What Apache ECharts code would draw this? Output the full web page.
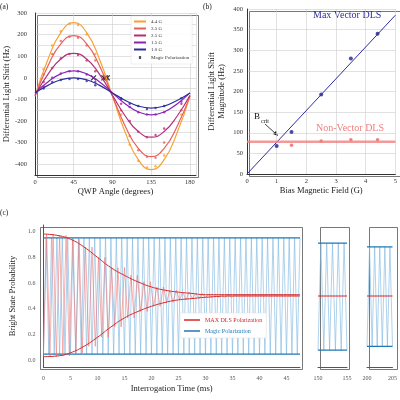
<!DOCTYPE html>
<html><head><meta charset="utf-8">
<script src="https://cdn.jsdelivr.net/npm/echarts@6/dist/echarts.min.js"></script>
<style>html,body{margin:0;background:#fff}#c{width:400px;height:400px}</style>
</head><body><div id="c"></div>
<script>
// panel (a)
const qwpAngles = [0, 15, 30, 45, 60, 75, 90, 105, 120, 135, 150, 165, 180];
const fit44 = [-85, 85, 209, 255, 209, 85, -85, -255, -379, -425, -379, -255, -85];
const fit35 = [-85, 55, 157, 195, 157, 55, -85, -225, -327, -365, -327, -225, -85];
const fit25 = [-81, 16, 87, 113, 87, 16, -81, -178, -249, -275, -249, -178, -81];
const fit15 = [-70, -19, 18, 32, 18, -19, -70, -121, -158, -172, -158, -121, -70];
const fit10 = [-70, -35, -9, 0, -9, -35, -70, -105, -131, -140, -131, -105, -70];
const dataAngles = [10, 20, 30, 40, 50, 60, 70, 100, 110, 120, 130, 140, 150, 170];
const pts44 = [40, 150, 215, 250, 245, 200, 110, -170, -310, -385, -415, -410, -360, -170];
const pts35 = [15, 110, 170, 190, 185, 150, 80, -150, -270, -335, -365, -370, -300, -150];
const pts25 = [-20, 45, 90, 110, 105, 80, 30, -120, -200, -250, -275, -265, -235, -120];
const pts15 = [-40, 0, 20, 30, 30, 15, -20, -100, -135, -160, -170, -170, -160, -110];
const pts10 = [-50, -20, -10, -5, -5, -15, -35, -95, -120, -130, -145, -140, -130, -95];
const magicAngles = [68, 80, 82, 84];
const fieldLabels = ['4.4 G', '3.5 G', '2.5 G', '1.5 G', '1.0 G'];
const fieldColors = ['#f9a030', '#e8605a', '#b5307a', '#8a22b8', '#2e2e9e'];
// panel (b)
const biasB = [1.0, 1.5, 2.5, 3.5, 4.4];
const vectorDLS = [68, 102, 193, 280, 340];
const biasNV = [1.5, 2.5, 3.5, 4.4];
const nonVectorDLS = [70, 80, 83, 83];
const vectorLine = [[0, 0], [5, 385]];
const nonVectorLevel = 78;
// panel (c) envelopes
const envT = [0, 2.5, 5, 7.5, 10, 12.5, 15, 17.5, 20, 22.5, 25, 27.5, 30, 35, 47.5];
const redUpper = [0.98, 0.97, 0.94, 0.88, 0.80, 0.72, 0.66, 0.61, 0.57, 0.545, 0.53, 0.52, 0.51, 0.51, 0.51];
const redLower = [0.03, 0.035, 0.06, 0.11, 0.18, 0.26, 0.33, 0.38, 0.42, 0.45, 0.47, 0.48, 0.49, 0.50, 0.50];
const magicHi = [0.95, 0.91, 0.88];
const magicLo = [0.05, 0.08, 0.11];
const magicHalfPeriod = 0.5;
const redHalfPeriod = 0.6;

const envAt = (arr, t) => { let i = 0; while (i < envT.length - 1 && envT[i + 1] <= t) i++; return arr[i]; };
function zigzag(t0, t1, half, hiFn, loFn) {
  const out = []; let k = 0;
  for (let t = t0; t <= t1 + 1e-9; t += half, k++) out.push([t, k % 2 ? hiFn(t) : loFn(t)]);
  return out;
}
const pair = (xs, ys) => xs.map((x, i) => [x, ys[i]]);

const F = 'Liberation Serif';
const CROSS = 'path://M0,0L10,10M10,0L0,10';
const ax = (extra) => Object.assign({
  axisLine: { onZero: false, lineStyle: { color: '#333' } }, axisTick: { show: false },
  axisLabel: { fontFamily: F, fontSize: 6.5, color: '#333', margin: 4 },
  splitLine: { lineStyle: { color: '#ccc', width: 0.6 } },
  nameTextStyle: { fontFamily: F, fontSize: 8.5, color: '#222' }, nameLocation: 'middle'
}, extra);
const cLabel = { fontFamily: F, fontSize: 6, color: '#555' };
const cLine = { onZero: false, lineStyle: { color: '#555' } };

const series = [];
const fits = [fit44, fit35, fit25, fit15, fit10];
const pts = [pts44, pts35, pts25, pts15, pts10];
fieldLabels.forEach((n, i) => {
  series.push({ name: n, type: 'line', smooth: 0.5, showSymbol: false, xAxisIndex: 0, yAxisIndex: 0,
    data: pair(qwpAngles, fits[i]), lineStyle: { color: fieldColors[i], width: 1.2 }, itemStyle: { color: fieldColors[i] } });
  series.push({ type: 'scatter', symbolSize: 2.5, xAxisIndex: 0, yAxisIndex: 0,
    data: pair(dataAngles, pts[i]), itemStyle: { color: fieldColors[i] } });
});
series.push({ name: 'Magic Polarization', type: 'scatter', symbol: CROSS, symbolSize: 5,
  xAxisIndex: 0, yAxisIndex: 0, data: magicAngles.map(a => [a, 0]),
  itemStyle: { color: 'none', borderColor: '#000', borderWidth: 1.2 } });

series.push({ type: 'line', xAxisIndex: 1, yAxisIndex: 1, data: vectorLine, showSymbol: false,
  lineStyle: { color: '#2e2e9e', width: 1 }, silent: true });
series.push({ type: 'line', xAxisIndex: 1, yAxisIndex: 1, data: [[0, nonVectorLevel], [5, nonVectorLevel]], showSymbol: false,
  lineStyle: { color: '#f08080', width: 2.5, opacity: 0.8 } });
series.push({ type: 'scatter', xAxisIndex: 1, yAxisIndex: 1, data: pair(biasB, vectorDLS), symbolSize: 4, itemStyle: { color: '#1f1f8f' } });
series.push({ type: 'scatter', xAxisIndex: 1, yAxisIndex: 1, data: pair(biasNV, nonVectorDLS), symbolSize: 3.5, itemStyle: { color: '#e86060' } });

// panel (c)
const cRanges = [[0, 47.5], [150, 155], [200, 205]];
cRanges.forEach((r, i) => {
  const xi = 2 + i;
  series.push({ type: 'line', xAxisIndex: xi, yAxisIndex: xi, showSymbol: false, silent: true,
    data: zigzag(r[0], r[1], magicHalfPeriod, () => magicHi[i], () => magicLo[i]),
    lineStyle: { color: '#7fb8e0', width: 0.9, opacity: 0.7 } });
  ['hi', 'lo'].forEach((k, j) => series.push({ name: i === 0 && j === 0 ? 'Magic Polarization ' : undefined,
    type: 'line', xAxisIndex: xi, yAxisIndex: xi, showSymbol: false,
    data: [[r[0], j ? magicLo[i] : magicHi[i]], [r[1], j ? magicLo[i] : magicHi[i]]],
    lineStyle: { color: '#1f77b4', width: 1.2 }, itemStyle: { color: '#1f77b4' } }));
  if (i > 0) series.push({ type: 'line', xAxisIndex: xi, yAxisIndex: xi, showSymbol: false,
    data: [[r[0], 0.5], [r[1], 0.5]], lineStyle: { color: '#d62728', width: 1 } });
});
series.push({ type: 'line', xAxisIndex: 2, yAxisIndex: 2, showSymbol: false, silent: true,
  data: zigzag(0, 47.5, redHalfPeriod, t => envAt(redUpper, t), t => envAt(redLower, t)),
  lineStyle: { color: '#ee7070', width: 0.7, opacity: 0.8 } });
series.push({ name: 'MAX DLS Polarization', type: 'line', smooth: true, xAxisIndex: 2, yAxisIndex: 2, showSymbol: false,
  data: pair(envT, redUpper), lineStyle: { color: '#d62728', width: 1 }, itemStyle: { color: '#d62728' } });
series.push({ type: 'line', smooth: true, xAxisIndex: 2, yAxisIndex: 2, showSymbol: false,
  data: pair(envT, redLower), lineStyle: { color: '#d62728', width: 1 } });

const txt = (x, y, s, size, color, extra) => ({ type: 'text', left: x, top: y,
  style: Object.assign({ text: s, fontFamily: F, fontSize: size, fill: color || '#222' }, extra) });
const box = (x, y, w, h) => ({ type: 'rect', left: x, top: y, shape: { width: w, height: h }, silent: true,
  style: { fill: 'none', stroke: '#555', lineWidth: 0.8 } });

const chart = echarts.init(document.getElementById('c'));
chart.setOption({
  animation: false,
  grid: [
    { left: 35, top: 13, width: 161, height: 162 },
    { left: 247, top: 9, width: 151, height: 165 },
    { left: 38, top: 225, width: 262, height: 142 },
    { left: 318, top: 225, width: 29, height: 142 },
    { left: 367, top: 225, width: 28, height: 142 }
  ],
  xAxis: [
    ax({ gridIndex: 0, min: 0, max: 187, interval: 45, name: 'QWP Angle (degrees)', nameGap: 12 }),
    ax({ gridIndex: 1, min: 0, max: 5, interval: 1, name: 'Bias Magnetic Field (G)', nameGap: 12 }),
    ax({ gridIndex: 2, min: 0, max: 47.5, interval: 5, name: 'Interrogation Time (ms)', nameGap: 17, splitLine: { show: false },
      axisLine: cLine, axisLabel: Object.assign({ showMaxLabel: false }, cLabel) }),
    ax({ gridIndex: 3, min: 150, max: 155, interval: 5, splitLine: { show: false }, axisLine: cLine, axisLabel: cLabel }),
    ax({ gridIndex: 4, min: 200, max: 205, interval: 5, splitLine: { show: false }, axisLine: cLine, axisLabel: cLabel })
  ],
  yAxis: [
    ax({ gridIndex: 0, min: -450, max: 300, interval: 50, name: 'Differential Light Shift (Hz)', nameGap: 22,
      axisLabel: { fontFamily: F, fontSize: 6.5, color: '#333', formatter: v => v % 100 === 0 ? v : '' },
      splitLine: { lineStyle: { color: ['#ccc'], width: 0.6 }, interval: (i, v) => Number(v) % 100 === 0 } }),
    ax({ gridIndex: 1, min: 0, max: 400, interval: 50, name: 'Differential Light Shift\nMagnitude (Hz)', nameGap: 20,
      nameTextStyle: { fontFamily: F, fontSize: 8.5, color: '#222', lineHeight: 10 } }),
    ax({ gridIndex: 2, min: -0.05, max: 1.05, name: 'Bright State Probability', nameGap: 22, splitLine: { show: false },
      axisLine: cLine,
      axisLabel: Object.assign({ formatter: v => { const r = Math.round(v * 10) / 10; return Math.abs(v - r) < 1e-6 && r >= 0 && r <= 1 && Math.round(r * 10) % 2 === 0 ? r.toFixed(1) : ''; } }, cLabel),
      interval: 0.05 }),
    ax({ gridIndex: 3, min: -0.05, max: 1.05, axisLine: { show: false }, axisLabel: { show: false }, splitLine: { show: false } }),
    ax({ gridIndex: 4, min: -0.05, max: 1.05, axisLine: { show: false }, axisLabel: { show: false }, splitLine: { show: false } })
  ],
  legend: [
    { data: fieldLabels.map(n => ({ name: n, icon: 'rect' })).concat([{ name: 'Magic Polarization', icon: CROSS,
        itemStyle: { color: 'none', borderColor: '#000', borderWidth: 1.2 } }]),
      left: 131, top: 16, orient: 'vertical', itemGap: 2, itemWidth: 12, itemHeight: 2,
      textStyle: { fontFamily: F, fontSize: 5, color: '#333' }, backgroundColor: 'rgba(255,255,255,0.9)', borderColor: '#ddd', borderWidth: 0.5, padding: 3 },
    { data: [{ name: 'MAX DLS Polarization', icon: 'rect', textStyle: { color: '#d62728' } },
             { name: 'Magic Polarization ', icon: 'rect', textStyle: { color: '#1f77b4' } }],
      left: 180, top: 313, orient: 'vertical', itemGap: 5, itemWidth: 16, itemHeight: 1.5,
      textStyle: { fontFamily: F, fontSize: 6 }, formatter: n => n.trim(),
      backgroundColor: '#fff', borderColor: '#ddd', borderWidth: 0.5, padding: 4 }
  ],
  graphic: [
    txt(0, 3, '(a)', 7.5), txt(203, 3, '(b)', 7.5), txt(0, 209, '(c)', 7.5),
    box(35, 13, 161, 162), box(247, 9, 151, 165),
    box(38, 225, 262, 142), box(318, 225, 29, 142), box(367, 225, 28, 142),
    txt(313, 10, 'Max Vector DLS', 10, '#2e2e9e'),
    txt(316, 123, 'Non-Vector DLS', 10, '#f08080'),
    txt(254, 112, 'B', 9, '#111'), txt(261, 118, 'crit', 6, '#111'),
    { type: 'line', shape: { x1: 265, y1: 124, x2: 276, y2: 134 }, style: { stroke: '#111', lineWidth: 0.8 } },
    { type: 'polygon', shape: { points: [[278, 136], [273, 134], [276, 131]] }, style: { fill: '#111' } }
  ],
  series
});
</script></body></html>
